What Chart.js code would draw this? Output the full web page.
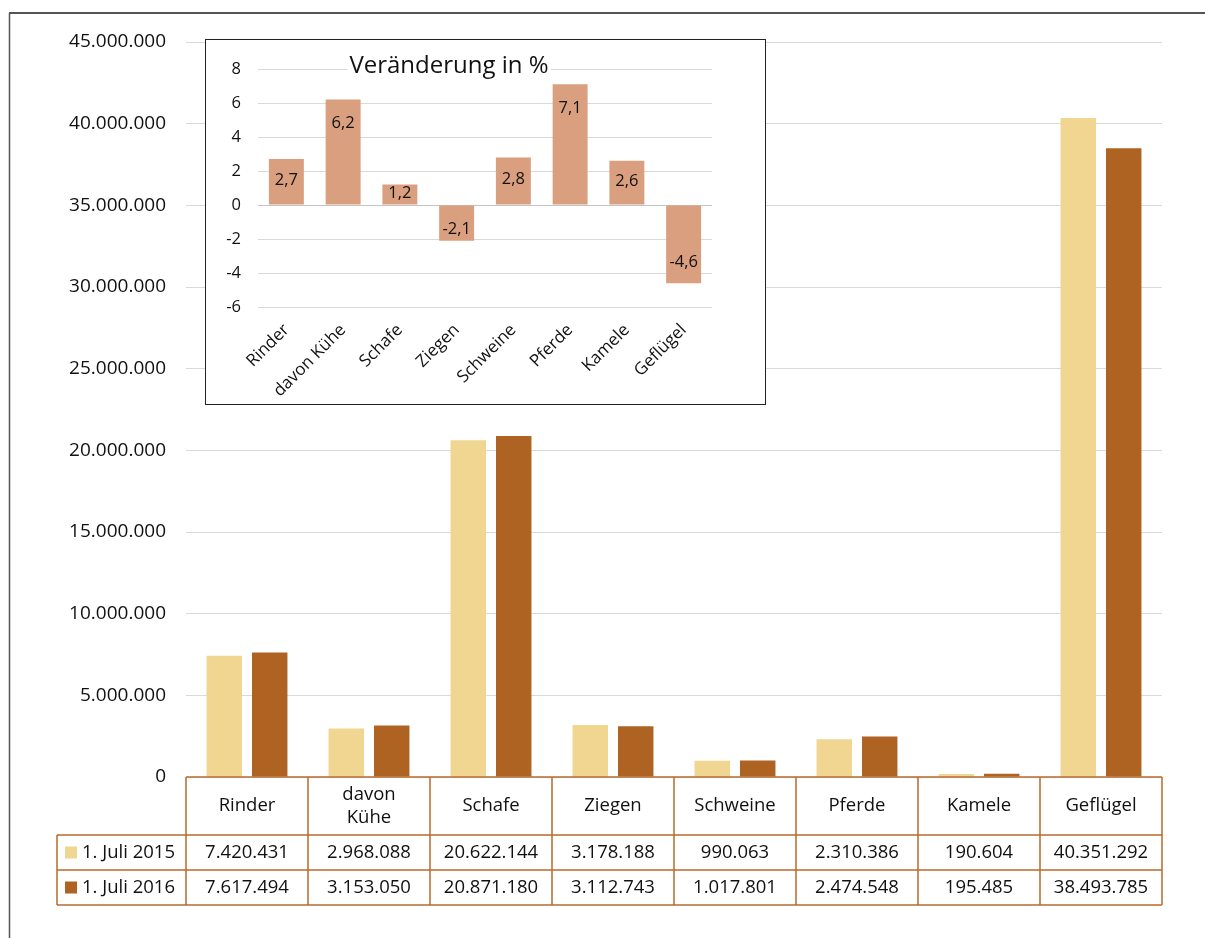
<!DOCTYPE html>
<html><head><meta charset="utf-8">
<script src="https://cdn.jsdelivr.net/npm/chart.js@4/dist/chart.umd.min.js"></script>
<style>
html,body{margin:0;padding:0;background:#fff;}
#wrap{position:relative;width:1205px;height:938px;overflow:hidden;background:#fff;}
#main{position:absolute;left:0;top:0;}
#insetBox{position:absolute;left:205px;top:39px;width:561px;height:366px;box-sizing:border-box;border:1px solid #222;background:#fff;}
#inset{position:absolute;left:0;top:0;}
</style></head><body>
<div id="wrap">
<canvas id="main" width="1205" height="938"></canvas>
<div id="insetBox"><canvas id="inset" width="559" height="364"></canvas></div>
</div>
<script>
// ---- data ----
const categories = ['Rinder','davon Kühe','Schafe','Ziegen','Schweine','Pferde','Kamele','Geflügel'];
const seriesNames = ['1. Juli 2015','1. Juli 2016'];
const values2015 = [7420431,2968088,20622144,3178188,990063,2310386,190604,40351292];
const values2016 = [7617494,3153050,20871180,3112743,1017801,2474548,195485,38493785];
const changePct = [2.7,6.2,1.2,-2.1,2.8,7.1,2.6,-4.6];
const mainTicks = [0,5000000,10000000,15000000,20000000,25000000,30000000,35000000,40000000,45000000];
const insetTicks = [-6,-4,-2,0,2,4,6,8];
const insetTitle = 'Veränderung in %';

// ---- styles ----
const C2015 = '#F0D690';
const C2016 = '#AE6322';
const CPCT = '#D99F7F';
const TXT = '#111';
const BORDER = '#B86B2C';
const FONT = 'Open Sans';

function fmtDE(n){ const s = String(Math.round(Math.abs(n))).replace(/\B(?=(\d{3})+(?!\d))/g,'.'); return (n<0?'-':'')+s; }
function fmtPct(v){ return v.toFixed(1).replace('.',','); }

const framePlugin = {
  id:'frame',
  afterDraw(chart){
    const ctx = chart.ctx;
    ctx.save();
    ctx.strokeStyle = '#555';
    ctx.lineWidth = 2;
    ctx.beginPath(); ctx.moveTo(9,13); ctx.lineTo(1205,13); ctx.stroke();
    ctx.lineWidth = 1.5;
    ctx.beginPath(); ctx.moveTo(9.5,13); ctx.lineTo(9.5,938); ctx.stroke();
    ctx.restore();
  }
};

const tablePlugin = {
  id:'dataTable',
  afterDraw(chart){
    const ctx = chart.ctx, xs = chart.scales.x, a = chart.chartArea;
    const n = categories.length;
    const cw = (a.right - a.left) / n;
    const top = a.bottom, hdrB = top + 58, r1B = hdrB + 35, r2B = r1B + 35, legL = 57;
    const rows = [values2015, values2016];
    const cols = [C2015, C2016];
    ctx.save();
    ctx.fillStyle = TXT;
    ctx.font = '18.5px "' + FONT + '"';
    ctx.textAlign = 'center';
    ctx.textBaseline = 'middle';
    categories.forEach((c,i)=>{
      const cx = xs.getPixelForValue(i);
      const parts = c.indexOf(' ')>=0 ? c.split(' ') : [c];
      const cy = (top + hdrB)/2;
      parts.forEach((p,k)=>{
        ctx.fillText(p, cx, cy + (k - (parts.length-1)/2)*23);
      });
      rows.forEach((r,ri)=>{
        const yTop = hdrB + ri*35;
        ctx.fillText(fmtDE(r[i]), cx, yTop + 17.5);
      });
    });
    // legend column
    ctx.textAlign = 'left';
    rows.forEach((r,ri)=>{
      const yc = hdrB + ri*35 + 17.5;
      ctx.fillStyle = cols[ri];
      ctx.fillRect(65, yc-6, 12, 12);
      ctx.fillStyle = TXT;
      ctx.fillText(seriesNames[ri], 82, yc);
    });
    // lines
    ctx.strokeStyle = BORDER;
    ctx.lineWidth = 1.5;
    ctx.beginPath();
    ctx.moveTo(a.left, top); ctx.lineTo(a.right, top);
    [hdrB, r1B, r2B].forEach(y=>{ ctx.moveTo(legL, y); ctx.lineTo(a.right, y); });
    ctx.moveTo(legL, hdrB); ctx.lineTo(legL, r2B);
    for (let i=0;i<=n;i++){
      const x = a.left + i*cw;
      ctx.moveTo(x, top); ctx.lineTo(x, r2B);
    }
    ctx.stroke();
    ctx.restore();
  }
};

new Chart(document.getElementById('main'), {
  type:'bar',
  data:{
    labels:categories,
    datasets:[
      {label:seriesNames[0], data:values2015, backgroundColor:C2015, categoryPercentage:0.745, barPercentage:0.78},
      {label:seriesNames[1], data:values2016, backgroundColor:C2016, categoryPercentage:0.745, barPercentage:0.78}
    ]
  },
  options:{
    responsive:false, animation:false, devicePixelRatio:1,
    layout:{padding:{left:0,right:43,top:42,bottom:161}},
    plugins:{legend:{display:false}, tooltip:{enabled:false}},
    scales:{
      x:{display:false},
      y:{
        min:mainTicks[0], max:mainTicks[mainTicks.length-1],
        ticks:{stepSize:mainTicks[1]-mainTicks[0], padding:20, color:TXT, font:{family:FONT,size:19}, callback:v=>fmtDE(v)},
        grid:{color:'#d9d9d9', drawTicks:false, lineWidth:1},
        border:{display:false},
        afterFit(s){ s.width = 186; }
      }
    }
  },
  plugins:[tablePlugin, framePlugin]
});

const insetLabelPlugin = {
  id:'insetLabels',
  afterDatasetsDraw(chart){
    const ctx = chart.ctx, ys = chart.scales.y;
    const meta = chart.getDatasetMeta(0);
    const zero = ys.getPixelForValue(0);
    ctx.save();
    ctx.fillStyle = TXT;
    ctx.font = '16.5px "' + FONT + '"';
    ctx.textAlign = 'center';
    ctx.textBaseline = 'middle';
    meta.data.forEach((bar,i)=>{
      const v = changePct[i];
      const h = Math.abs(zero - bar.y);
      const y = v >= 0 ? bar.y + Math.min(24, h/2 - 2) : bar.y - Math.min(21, h/3);
      ctx.fillText(fmtPct(v), bar.x, y);
    });
    ctx.restore();
  }
};

const insetTitlePlugin = {
  id:'insetTitle',
  afterDraw(chart){
    const ctx = chart.ctx;
    ctx.save();
    ctx.font = '24px "' + FONT + '"';
    const w = ctx.measureText(insetTitle).width;
    const cx = 243, base = 33;
    ctx.fillStyle = '#fff';
    ctx.fillRect(cx - w/2 - 2, base - 20, w + 4, 26);
    ctx.fillStyle = TXT;
    ctx.textAlign = 'center';
    ctx.textBaseline = 'alphabetic';
    ctx.fillText(insetTitle, cx, base);
    ctx.restore();
  }
};

new Chart(document.getElementById('inset'), {
  type:'bar',
  data:{labels:categories, datasets:[{data:changePct, backgroundColor:CPCT, categoryPercentage:0.8, barPercentage:0.77}]},
  options:{
    responsive:false, animation:false, devicePixelRatio:1,
    layout:{padding:{left:0,right:53,top:29,bottom:0}},
    plugins:{legend:{display:false}, tooltip:{enabled:false}},
    scales:{
      x:{
        grid:{display:false, drawTicks:false}, border:{display:false},
        ticks:{maxRotation:45, minRotation:45, padding:13, color:TXT, font:{family:FONT,size:17}},
        afterFit(s){ s.height = 97; }
      },
      y:{
        min:insetTicks[0], max:insetTicks[insetTicks.length-1],
        ticks:{stepSize:insetTicks[1]-insetTicks[0], padding:17, color:TXT, font:{family:FONT,size:16.5}, callback:v=>String(v)},
        grid:{color:c=>c.tick && c.tick.value===0 ? '#c4c4c4' : '#d9d9d9', drawTicks:false},
        border:{display:false},
        afterFit(s){ s.width = 52; }
      }
    }
  },
  plugins:[insetLabelPlugin, insetTitlePlugin]
});
</script>
</body></html>
